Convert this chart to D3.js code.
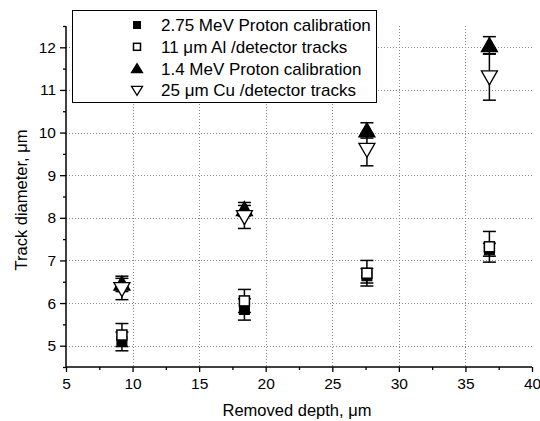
<!DOCTYPE html>
<html><head><meta charset="utf-8">
<script src="https://cdn.jsdelivr.net/npm/d3@7"></script>
<style>body{margin:0;background:#fff}text{font-family:"Liberation Sans",Arial,sans-serif;fill:#000}</style>
</head><body>
<svg id="c" width="540" height="421"></svg>
<script>
const depths = [9.2, 18.4, 27.6, 36.8];
const seriesNames = ["2.75 MeV Proton calibration", "11 \u03bcm Al /detector tracks", "1.4 MeV Proton calibration", "25 \u03bcm Cu /detector tracks"];
const p275Values = [5.1, 5.85, 6.64, 7.25];
const p275Errors = [0.22, 0.25, 0.17, 0.15];
const alValues = [5.25, 6.05, 6.7, 7.32];
const alErrors = [0.27, 0.27, 0.3, 0.36];
const p14Values = [6.45, 8.2, 10.05, 12.05];
const p14Errors = [0.18, 0.16, 0.18, 0.2];
const cuValues = [6.33, 8.02, 9.6, 11.3];
const cuErrors = [0.25, 0.27, 0.38, 0.54];
const xTicks = [5, 10, 15, 20, 25, 30, 35, 40];
const yTicks = [5, 6, 7, 8, 9, 10, 11, 12];

const svg = d3.select("#c");
const x = d3.scaleLinear().domain([5, 40]).range([66, 532]);
const y = d3.scaleLinear().domain([4.5, 12.5]).range([367, 26]);

// grid
const grid = svg.append("g").attr("stroke", "#8a8a8a").attr("stroke-width", 1).attr("stroke-dasharray", "1,2");
grid.selectAll(".gx").data(xTicks.filter(t => t > 5 && t < 40)).join("line")
  .attr("x1", d => Math.round(x(d)) + 0.5).attr("x2", d => Math.round(x(d)) + 0.5)
  .attr("y1", y(12.5)).attr("y2", y(4.5));
grid.selectAll(".gy").data(yTicks).join("line")
  .attr("y1", d => Math.round(y(d)) + 0.5).attr("y2", d => Math.round(y(d)) + 0.5)
  .attr("x1", x(5)).attr("x2", x(40));

// axes
const xAxis = svg.append("g").attr("transform", `translate(0,${y(4.5)})`)
  .call(d3.axisBottom(x).tickValues(xTicks).tickSize(5).tickPadding(6).tickFormat(d3.format("d")));
svg.append("g").attr("transform", `translate(0,${y(4.5)})`)
  .call(d3.axisBottom(x).tickValues(d3.range(7.5, 40, 5)).tickSize(3).tickFormat(""))
  .select(".domain").remove();
const yAxis = svg.append("g").attr("transform", `translate(${x(5)},0)`)
  .call(d3.axisLeft(y).tickValues(yTicks).tickSize(6).tickPadding(4).tickFormat(d3.format("d")));
svg.append("g").attr("transform", `translate(${x(5)},0)`)
  .call(d3.axisLeft(y).tickValues(d3.range(4.5, 12.6, 1)).tickSize(3).tickFormat(""))
  .select(".domain").remove();
svg.selectAll(".domain").attr("stroke-width", 1.5);
svg.selectAll(".tick line").attr("stroke-width", 1.3);
svg.selectAll(".tick text").style("font-size", "15.5px").style("font-family", "Liberation Sans, Arial, sans-serif");
xAxis.select(".domain").attr("d", `M${x(5)},0H${x(40)}`);
yAxis.select(".domain").attr("d", `M0,${y(12.5)}V${y(4.5)}`);

// labels
svg.append("text").attr("x", 297).attr("y", 416).attr("text-anchor", "middle")
  .style("font-size", "16.5px").text("Removed depth, \u03bcm");
svg.append("text").attr("transform", "translate(27,200) rotate(-90)").attr("text-anchor", "middle")
  .style("font-size", "16.5px").text("Track diameter, \u03bcm");

function marker(g, kind, big) {
  if (kind === 0 || kind === 1) {
    const s = big ? 10 : 7;
    g.append("rect").attr("x", -s / 2).attr("y", -s / 2).attr("width", s).attr("height", s)
      .attr("fill", kind === 0 ? "#000" : "#fff").attr("stroke", "#000").attr("stroke-width", kind === 0 ? 1 : 1.5);
  } else {
    const w = big ? 16 : 11, h = big ? 14 : 9;
    const pts = kind === 2
      ? [[0, -h * 0.55], [w / 2, h * 0.45], [-w / 2, h * 0.45]]
      : [[0, h * 0.55], [w / 2, -h * 0.45], [-w / 2, -h * 0.45]];
    g.append("path").attr("d", "M" + pts.map(p => p.join(",")).join("L") + "Z")
      .attr("fill", kind === 2 ? "#000" : "#fff").attr("stroke", "#000").attr("stroke-width", 1.3);
  }
}

const series = [
  {vals: p275Values, errs: p275Errors},
  {vals: alValues, errs: alErrors},
  {vals: p14Values, errs: p14Errors},
  {vals: cuValues, errs: cuErrors}
];
series.forEach((s, k) => {
  const g = svg.append("g");
  depths.forEach((d, i) => {
    const cx = x(d), v = s.vals[i], e = s.errs[i];
    const eg = g.append("g").attr("stroke", "#000").attr("stroke-width", 1.5);
    eg.append("line").attr("x1", cx).attr("x2", cx).attr("y1", y(v + e)).attr("y2", y(v - e));
    eg.append("line").attr("x1", cx - 6.5).attr("x2", cx + 6.5).attr("y1", y(v + e)).attr("y2", y(v + e));
    eg.append("line").attr("x1", cx - 6.5).attr("x2", cx + 6.5).attr("y1", y(v - e)).attr("y2", y(v - e));
    const mg = g.append("g").attr("transform", `translate(${cx},${y(v)})`);
    marker(mg, k, true);
  });
});

// legend
const lg = svg.append("g");
lg.append("rect").attr("x", 72.5).attr("y", 10.5).attr("width", 304).attr("height", 92)
  .attr("fill", "#fff").attr("stroke", "#000").attr("stroke-width", 1);
seriesNames.forEach((n, i) => {
  const yy = 25 + i * 21.8;
  marker(lg.append("g").attr("transform", `translate(137,${yy})`), i, false);
  lg.append("text").attr("x", 161).attr("y", yy + 6).style("font-size", "17px").text(n);
});
</script>
</body></html>
